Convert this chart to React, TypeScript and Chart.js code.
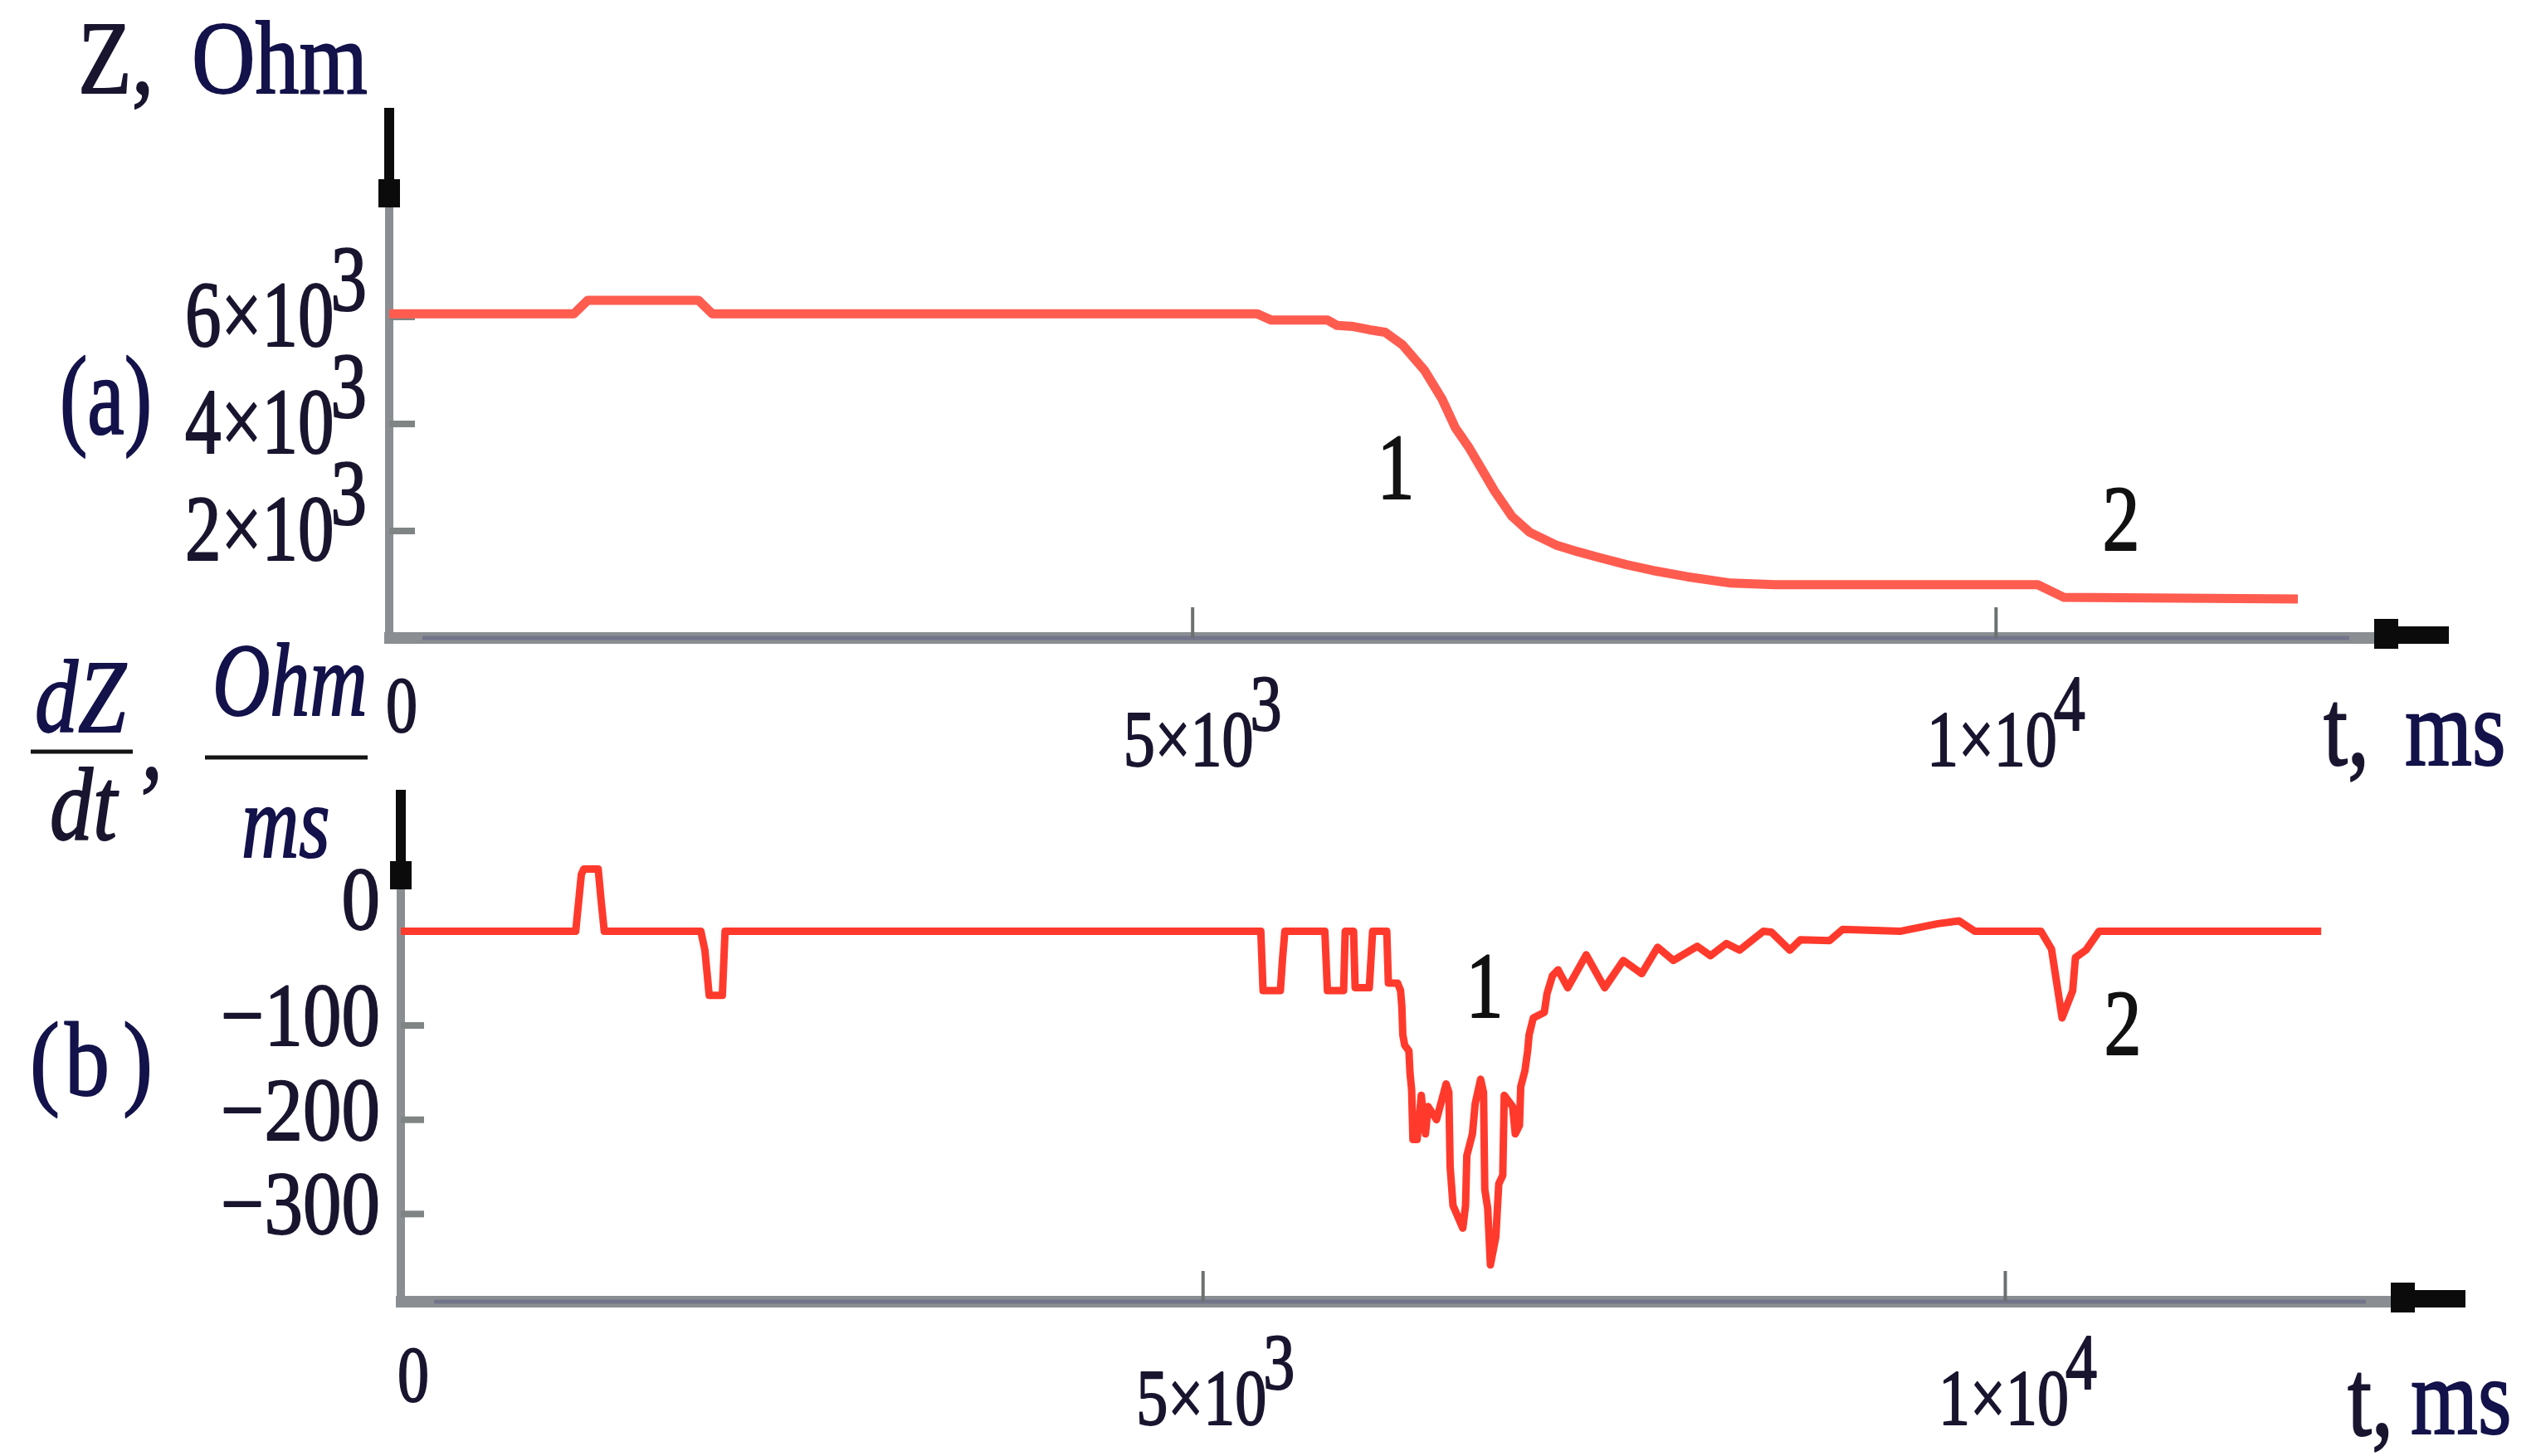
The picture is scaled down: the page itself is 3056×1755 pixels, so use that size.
import React, { useEffect, useRef } from 'react';
import { Chart, registerables } from 'chart.js';

Chart.register(...registerables);

// ---------------- data ----------------
// (a) impedance Z [Ohm] versus time t [ms]
const zTime = [0, 1150, 1235, 1925, 2010, 5400, 5490, 5840, 5900, 6000, 6100, 6198, 6307, 6443, 6552, 6634, 6716, 6798, 6879, 6988, 7098, 7261, 7400, 7534, 7700, 7860, 8079, 8351, 8624, 10259, 10423, 11878];
const zOhm = [6060, 6060, 6310, 6310, 6060, 6060, 5940, 5940, 5840, 5820, 5760, 5713, 5476, 5002, 4467, 3933, 3577, 3161, 2746, 2271, 1975, 1738, 1610, 1501, 1370, 1264, 1144, 1026, 997, 997, 758, 729];

// (b) dZ/dt [Ohm/ms] versus time t [ms]
const rTime = [
  0, 1090, 1125, 1140, 1230, 1250, 1268, 1870, 1895, 1922, 2004, 2021,
  5360, 5374, 5482, 5495, 5510, 5759, 5775, 5876, 5886, 5938, 5948, 6036, 6057, 6145, 6155, 6212,
  6231, 6239, 6245, 6257, 6283, 6290, 6300, 6308, 6334, 6360, 6386, 6403, 6455, 6515, 6532, 6540,
  6558, 6619, 6636, 6644, 6679, 6696, 6730, 6748, 6756, 6774, 6791, 6825, 6843, 6868, 6877, 6903,
  6929, 6946, 6972, 6980, 7006, 7023, 7032, 7058, 7127, 7144, 7178, 7213, 7273, 7388, 7503, 7619,
  7734, 7833, 7932, 8080, 8163, 8262, 8344, 8492, 8542, 8657, 8723, 8904, 8987, 9349, 9580, 9712,
  9810, 10222, 10288, 10354, 10420, 10437, 10503, 10585, 11969,
];
const rRate = [
  0, 0, 60, 66, 66, 30, 0, 0, -20, -68, -68, 0,
  0, -63, -63, -30, 0, 0, -63, -63, 0, 0, -60, -60, 0, 0, -55, -55,
  -63, -80, -110, -121, -127, -151, -168, -221, -221, -174, -215, -186, -200, -162, -171, -250,
  -291, -315, -291, -238, -215, -183, -157, -171, -274, -294, -354, -324, -268, -259, -174, -180,
  -186, -215, -206, -165, -148, -127, -110, -92, -86, -66, -47, -41, -60, -25, -60, -31,
  -45, -17, -31, -16, -26, -13, -20, 0, -1, -20, -9, -10, 2, 0, 8, 11,
  0, 0, -19, -92, -63, -28, -20, 0, 0,
];

// axis ranges (the axis arrows end at the max values)
const zMin = 0;
const zMax = 9907;
const rMin = -393;
const rMax = 150;
const tMaxA = 12818;
const tMaxB = 12868;

// ticks and tick labels
const zTicks = [2000, 4000, 6000];
const zTickBase = ['2×10', '4×10', '6×10'];
const zTickExp = ['3', '3', '3'];
const rTicks = [0, -100, -200, -300];
const rTickText = ['0', '−100', '−200', '−300'];
const tTicks = [0, 5000, 10000];
const tTickBase = ['0', '5×10', '1×10'];
const tTickExp = ['', '3', '4'];

// curve markers "1" and "2" (placed in data coordinates)
const markAText = ['1', '2'];
const markAT = [6264, 10778];
const markAV = [2600, 1643];
const markBText = ['1', '2'];
const markBT = [6755, 10732];
const markBV = [-91, -131];

// ---------------- drawing helpers ----------------
const W = 3056;
const H = 1755;
const FONT = '"Liberation Serif", "Times New Roman", "DejaVu Serif", serif';
const INK = '#19152f';
const NAVY = '#13124a';
const AXIS = '#8a8e92';
const AXIS_CORE = '#72758a';
const TICK = '#7f8484';
const ARROW = '#0b0b0b';

function fontOf(size: number, italic?: boolean) {
  return `${italic ? 'italic ' : ''}${size}px ${FONT}`;
}

function measure(ctx: CanvasRenderingContext2D, s: string, size: number, italic?: boolean) {
  ctx.save();
  ctx.font = fontOf(size, italic);
  const w = ctx.measureText(s).width;
  ctx.restore();
  return w;
}

function drawText(
  ctx: CanvasRenderingContext2D,
  s: string,
  x: number,
  y: number,
  size: number,
  sy: number,
  opts: { italic?: boolean; align?: CanvasTextAlign; color?: string } = {}
) {
  ctx.save();
  ctx.translate(x, y);
  ctx.scale(1, sy);
  ctx.font = fontOf(size, opts.italic);
  ctx.fillStyle = opts.color || INK;
  ctx.strokeStyle = opts.color || INK;
  ctx.lineWidth = 1.6;
  ctx.lineJoin = 'round';
  ctx.textAlign = opts.align || 'left';
  ctx.textBaseline = 'alphabetic';
  ctx.fillText(s, 0, 0);
  ctx.strokeText(s, 0, 0);
  ctx.restore();
}

function drawAxes(ctx: CanvasRenderingContext2D, area: any) {
  const L = area.left;
  const T = area.top;
  const R = area.right;
  const B = area.bottom;
  ctx.save();
  // vertical axis (gray), arrow on top
  ctx.fillStyle = AXIS;
  ctx.fillRect(L - 5, T + 118, 10, B - T - 118 + 6);
  // horizontal axis (gray), arrow on the right
  ctx.fillStyle = AXIS;
  ctx.fillRect(L - 6, B - 7, R - 90 - (L - 6), 14);
  ctx.fillStyle = AXIS_CORE;
  ctx.fillRect(L + 40, B - 2.5, R - 160 - L, 5);
  // arrows
  ctx.fillStyle = ARROW;
  ctx.fillRect(L - 6, T, 12, 88);
  ctx.fillRect(L - 13, T + 86, 26, 34);
  ctx.fillRect(R - 90, B - 23, 29, 36);
  ctx.fillRect(R - 62, B - 14, 62, 21);
  ctx.restore();
}

function drawTimeLabels(ctx: CanvasRenderingContext2D, xs: any, area: any, zeroDy: number, dy: number, shift: number) {
  const size = 76;
  const sy = 1.25;
  tTicks.forEach((v, i) => {
    const x = xs.getPixelForValue(v);
    const base = tTickBase[i];
    const exp = tTickExp[i];
    if (!exp) {
      drawText(ctx, base, x + 15, area.bottom + zeroDy, size, sy, { align: 'center' });
      return;
    }
    const bw = measure(ctx, base, size);
    const ew = measure(ctx, exp, size);
    const total = bw + ew - 4;
    const left = x + shift - total / 2;
    drawText(ctx, base, left, area.bottom + dy, size, sy);
    drawText(ctx, exp, left + bw - 4, area.bottom + dy - 43, size, sy);
  });
}

function drawTimeTickMarks(ctx: CanvasRenderingContext2D, xs: any, area: any) {
  ctx.save();
  ctx.fillStyle = '#6c7070';
  tTicks.forEach((v) => {
    if (v <= 0) return;
    const x = xs.getPixelForValue(v);
    ctx.fillRect(x - 2, area.bottom - 37, 4, 37);
  });
  ctx.restore();
}

function drawMarks(ctx: CanvasRenderingContext2D, xs: any, ys: any, texts: string[], ts: number[], vs: number[]) {
  texts.forEach((s, i) => {
    drawText(ctx, s, xs.getPixelForValue(ts[i]), ys.getPixelForValue(vs[i]), 90, 1.25, { align: 'center', color: '#111' });
  });
}

const panelA = {
  id: 'panelA',
  beforeDatasetsDraw(chart: any) {
    const { ctx, chartArea: area } = chart;
    const xs = chart.scales.x;
    const ys = chart.scales.y;
    drawAxes(ctx, area);
    ctx.save();
    ctx.fillStyle = TICK;
    zTicks.forEach((v) => {
      const y = ys.getPixelForValue(v);
      ctx.fillRect(area.left, y - 4, 31, 8);
    });
    ctx.restore();
    drawTimeTickMarks(ctx, xs, area);
  },
  afterDraw(chart: any) {
    const { ctx, chartArea: area } = chart;
    const xs = chart.scales.x;
    const ys = chart.scales.y;
    // y tick labels  n×10^3
    const size = 87;
    const sy = 1.29;
    const right = 442;
    zTicks.forEach((v, i) => {
      const y = ys.getPixelForValue(v) + 35;
      const ew = measure(ctx, zTickExp[i], size);
      drawText(ctx, zTickExp[i], right, y - 43, size, sy, { align: 'right' });
      drawText(ctx, zTickBase[i], right - ew + 4, y, size, sy, { align: 'right' });
    });
    drawTimeLabels(ctx, xs, area, 113, 154, 12);
    // axis titles
    drawText(ctx, 'Z,', 94, 112, 106, 1.17);
    drawText(ctx, 'Ohm', 231, 112, 106, 1.17, { color: NAVY });
    drawText(ctx, '(a)', 72, 523, 100, 1.35, { color: NAVY });
    drawText(ctx, 't,', area.right - 151, area.bottom + 153, 104, 1.27);
    drawText(ctx, 'ms', area.right - 53, area.bottom + 153, 104, 1.27, { color: NAVY });
    drawMarks(ctx, xs, ys, markAText, markAT, markAV);
  },
};

const panelB = {
  id: 'panelB',
  beforeDatasetsDraw(chart: any) {
    const { ctx, chartArea: area } = chart;
    const xs = chart.scales.x;
    const ys = chart.scales.y;
    drawAxes(ctx, area);
    ctx.save();
    ctx.fillStyle = TICK;
    rTicks.forEach((v) => {
      const y = ys.getPixelForValue(v);
      ctx.fillRect(area.left, y - 4, 28, 8);
    });
    ctx.restore();
    drawTimeTickMarks(ctx, xs, area);
  },
  afterDraw(chart: any) {
    const { ctx, chartArea: area } = chart;
    const xs = chart.scales.x;
    const ys = chart.scales.y;
    // y tick labels
    rTicks.forEach((v, i) => {
      const y = ys.getPixelForValue(v) + (v === 0 ? -2 : 24);
      drawText(ctx, rTickText[i], 458, y, 93, 1.16, { align: 'right' });
    });
    drawTimeLabels(ctx, xs, area, 120, 148, 15);
    // axis title dZ/dt, Ohm/ms
    drawText(ctx, 'dZ', 42, 882, 104, 1.2, { italic: true, color: NAVY });
    drawText(ctx, 'dt', 60, 1012, 104, 1.2, { italic: true });
    drawText(ctx, ',', 170, 938, 104, 1.2, { italic: true });
    drawText(ctx, 'Ohm', 256, 862, 96, 1.3, { italic: true, color: NAVY });
    drawText(ctx, 'ms', 291, 1033, 96, 1.3, { italic: true, color: NAVY });
    ctx.save();
    ctx.fillStyle = '#141414';
    ctx.fillRect(37, 903.5, 123, 5);
    ctx.fillRect(247, 910.5, 196, 5);
    ctx.restore();
    drawText(ctx, '(', 36, 1320, 108, 1.18, { color: NAVY });
    drawText(ctx, 'b', 78, 1320, 108, 1.18, { color: NAVY });
    drawText(ctx, ')', 148, 1320, 108, 1.18, { color: NAVY });
    drawText(ctx, 't,', area.right - 142, area.bottom + 161, 104, 1.27);
    drawText(ctx, 'ms', area.right - 66, area.bottom + 159, 104, 1.27, { color: NAVY });
    drawMarks(ctx, xs, ys, markBText, markBT, markBV);
  },
};

function makeConfig(
  time: number[],
  values: number[],
  xMax: number,
  yMin: number,
  yMax: number,
  padding: any,
  color: string,
  width: number,
  plugin: any
): any {
  return {
    type: 'line',
    data: {
      datasets: [
        {
          data: time.map((t, i) => ({ x: t, y: values[i] })),
          borderColor: color,
          borderWidth: width,
          pointRadius: 0,
          tension: 0,
          fill: false,
          borderJoinStyle: 'round',
          borderCapStyle: 'butt',
        },
      ],
    },
    options: {
      responsive: false,
      maintainAspectRatio: false,
      animation: false,
      events: [],
      layout: { padding, autoPadding: false },
      plugins: { legend: { display: false }, tooltip: { enabled: false }, title: { display: false } },
      scales: {
        x: {
          type: 'linear',
          min: 0,
          max: xMax,
          grid: { display: false, drawTicks: false },
          border: { display: false },
          ticks: { display: false },
          afterFit: (s: any) => {
            s.height = 0;
          },
        },
        y: {
          type: 'linear',
          min: yMin,
          max: yMax,
          grid: { display: false, drawTicks: false },
          border: { display: false },
          ticks: { display: false },
          afterFit: (s: any) => {
            s.width = 0;
          },
        },
      },
    },
    plugins: [plugin],
  };
}

export default function App() {
  const refA = useRef<HTMLCanvasElement>(null);
  const refB = useRef<HTMLCanvasElement>(null);

  useEffect(() => {
    document.body.style.margin = '0';
    const chartA = new Chart(
      refA.current as HTMLCanvasElement,
      makeConfig(zTime, zOhm, tMaxA, zMin, zMax, { left: 469, top: 130, right: W - 2951, bottom: H - 769 }, '#ff5c50', 11, panelA)
    );
    const chartB = new Chart(
      refB.current as HTMLCanvasElement,
      makeConfig(rTime, rRate, tMaxB, rMin, rMax, { left: 483, top: 952, right: W - 2971, bottom: H - 1569 }, '#ff3a2c', 9, panelB)
    );
    return () => {
      chartA.destroy();
      chartB.destroy();
    };
  }, []);

  const canvasStyle: React.CSSProperties = { position: 'absolute', left: 0, top: 0, width: W, height: H };
  return (
    <div style={{ position: 'absolute', left: 0, top: 0, width: W, height: H, overflow: 'hidden', background: '#ffffff' }}>
      <canvas ref={refA} width={W} height={H} style={canvasStyle} />
      <canvas ref={refB} width={W} height={H} style={canvasStyle} />
    </div>
  );
}
